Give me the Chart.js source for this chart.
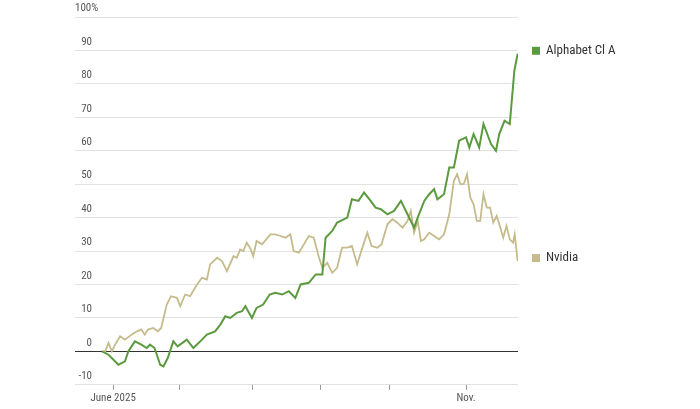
<!DOCTYPE html>
<html>
<head>
<meta charset="utf-8">
<script src="https://cdn.jsdelivr.net/npm/chart.js"></script>
<style>
  html, body { margin: 0; padding: 0; background: #fff; }
  #wrap { width: 700px; height: 409px; }
</style>
</head>
<body>
<div id="wrap"><canvas id="c" width="700" height="409"></canvas></div>
<script>
// x = trading day index from May 28, 2025; y = % change
const alphabetDays = [0,2,5,7,8,10,12,13.6,14.6,16,17.7,18.7,20,21.7,23,25.8,27.8,29.9,31.9,34.4,36,37.5,39,41,42.6,43.6,45.6,47,49,51,52.7,54.8,56.8,58.8,60.4,62.9,65,67,68,70,71.5,74.6,76,78,79.7,81.7,83.2,84.8,86.8,88.8,90.9,92.9,94.9,96,98,99.5,101,102,104,105.6,107,108.6,110.7,111.7,113,114.7,116,118.3,119.8,120.8,122.4,124,125.4,126.4];
const alphabetValues = [0,-1,-4,-3,0,3,2,1,2,1,-4,-4.5,-2,3,1.5,3.5,1,3,5,6,8,10.5,10,11.5,12,13.5,10,13,14,17,17.5,17,18,16,20,20.5,23,23,34,36,38.5,40,45.5,45,47.5,45,43,42.5,41,42,45,41,37,40,45,47,48.5,45.5,47,55,55,63,64,61,65,61,68,62,60,65,69,68,84,89];
const nvidiaDays = [0,1,2,3,4,5.5,7,9,10.6,12,13,14,15.6,17,18,19.7,21,22.8,23.8,25.3,26.8,28.9,30.4,31.9,32.9,35,36.5,38,40,41,42,43,44,45,46,47,48.7,51.2,52.7,54.3,55.8,57.3,58.3,59.9,61.4,62.9,64.4,66,67,68.5,70,71.5,73,74.6,76,77.6,79,80.7,82,83.7,85,86.8,88.3,89.8,91.4,92.9,93.9,94.9,96,97,98,99.5,101,102.5,104,105.6,107,108,109,110,111,112,113,114,115,116,117,118,119,120,121,122,123,124,125,125.5,126.4];
const nvidiaValues = [0,0,2.5,0,2,4.5,3.5,5,6,6.5,5,6.5,7,6,7,14,16.5,16,13.5,17,16.5,20,22,21.5,26,28,27,24,28.5,28,30.5,30,32.5,31,28.5,33,32,35,35,34.5,34,35,30,29.5,32,34.5,34,28,25,26.5,23.5,25,31,31,31.5,26,30.5,35.5,31.5,31,32,38,39.5,38.5,37,39,42,35.5,39,33,33.5,35.5,34.5,33.5,35,41,51,53,50,50,53,46,44,39,39,47,43,43,38.5,40.5,37.5,34,37.5,33.5,32.5,35,27];
const xTickDays = [3.4, 23.5, 45.7, 66.5, 87.5, 110.7];
const xTickLabels = ['June 2025', '', '', '', '', 'Nov.'];
const yTicks = [-10, 0, 10, 20, 30, 40, 50, 60, 70, 80, 90, 100];
const seriesNames = ['Alphabet Cl A', 'Nvidia'];
const seriesColors = ['#5b9a3f', '#c5bb8c'];

const FONT = "'Liberation Sans Narrow', 'Roboto Condensed', 'Liberation Sans', sans-serif";
const toPoints = (xs, ys) => xs.map((x, i) => ({ x: x, y: ys[i] }));

// y labels sit above their gridline, plus end-of-line legend labels
const labelsPlugin = {
  id: 'labels',
  afterDraw(chart) {
    const ctx = chart.ctx;
    const y = chart.scales.y;
    const area = chart.chartArea;
    ctx.save();
    ctx.font = '11px ' + FONT;
    ctx.fillStyle = '#555';
    ctx.textBaseline = 'bottom';
    yTicks.forEach(v => {
      const py = y.getPixelForValue(v) - 3;
      if (v === 100) {
        ctx.textAlign = 'left';
        ctx.fillText('100%', area.left, py);
      } else {
        ctx.textAlign = 'right';
        ctx.fillText(String(v), area.left + 17, py);
      }
    });
    ctx.font = '13px ' + FONT;
    ctx.textBaseline = 'middle';
    ctx.textAlign = 'left';
    chart.data.datasets.forEach((ds, i) => {
      const last = ds.data[ds.data.length - 1];
      const py = y.getPixelForValue(last.y) - 3;
      ctx.fillStyle = seriesColors[i];
      ctx.fillRect(area.right + 14, py - 4, 8, 8);
      ctx.fillStyle = '#333';
      ctx.fillText(seriesNames[i], area.right + 28, py);
    });
    ctx.restore();
  }
};

new Chart(document.getElementById('c'), {
  type: 'line',
  data: {
    datasets: [
      { label: seriesNames[0], data: toPoints(alphabetDays, alphabetValues), borderColor: seriesColors[0], borderWidth: 2, pointRadius: 0, tension: 0 },
      { label: seriesNames[1], data: toPoints(nvidiaDays, nvidiaValues), borderColor: seriesColors[1], borderWidth: 1.8, pointRadius: 0, tension: 0 }
    ]
  },
  options: {
    responsive: false,
    animation: false,
    layout: { padding: { left: 75, right: 182, top: 17, bottom: 2 } },
    plugins: { legend: { display: false }, tooltip: { enabled: false } },
    scales: {
      x: {
        type: 'linear',
        min: -8.2,
        max: 126.5,
        afterBuildTicks: axis => { axis.ticks = xTickDays.map(v => ({ value: v })); },
        grid: { drawOnChartArea: false, tickLength: 5, color: '#999' },
        border: { display: false },
        ticks: {
          autoSkip: false,
          maxRotation: 0,
          padding: 2,
          color: '#555',
          font: { family: FONT, size: 11 },
          callback: (v, i) => xTickLabels[i]
        }
      },
      y: {
        min: -10,
        max: 100,
        afterBuildTicks: axis => { axis.ticks = yTicks.map(v => ({ value: v })); },
        ticks: { display: false },
        border: { display: false },
        grid: {
          drawTicks: false,
          color: c => c.tick.value === 0 ? '#333' : '#e2e2e2',
          lineWidth: 1
        }
      }
    }
  },
  plugins: [labelsPlugin]
});
</script>
</body>
</html>
